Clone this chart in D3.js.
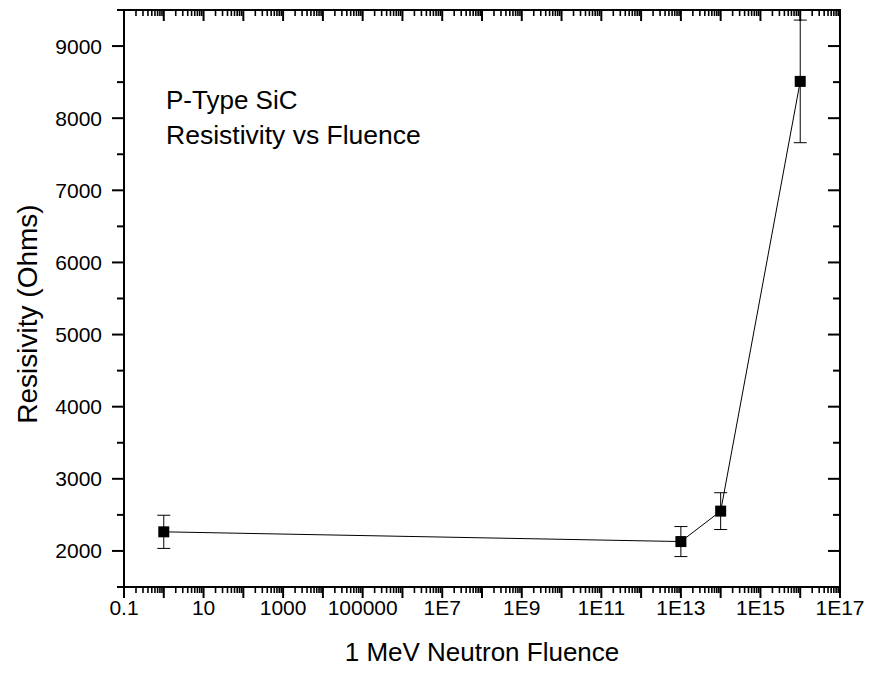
<!DOCTYPE html>
<meta charset="utf-8">
<script src="https://cdnjs.cloudflare.com/ajax/libs/d3/7.8.5/d3.min.js"></script>
<style>
  body { margin: 0; background: #fff; }
  text { font-family: "Liberation Sans", Arial, sans-serif; fill: #000; }
</style>
<div id="chart"></div>
<script>
// fluence (n/cm2), resistivity (Ohms), error (+/-)
const fluence = [1, 1e13, 1e14, 1e16];
const resistivity = [2265, 2130, 2552, 8510];
const errors = [230, 208, 255, 850];
const xTickLabels = ["0.1", "10", "1000", "100000", "1E7", "1E9", "1E11", "1E13", "1E15", "1E17"];
const yTicks = [2000, 3000, 4000, 5000, 6000, 7000, 8000, 9000];

const W = 870, H = 675;
const m = {left: 124, right: 30, top: 10, bottom: 88};

const svg = d3.select("#chart").append("svg").attr("width", W).attr("height", H);

const x = d3.scaleLog().domain([0.1, 1e17]).range([m.left, W - m.right]);
const y = d3.scaleLinear().domain([1500, 9500]).range([H - m.bottom, m.top]);

const x0 = m.left, x1 = W - m.right, y0 = H - m.bottom, y1 = m.top;

// log ticks: every decade major, 2..9 minor
let majorX = [], minorX = [];
for (let e = -1; e <= 17; e++) {
  majorX.push(Math.pow(10, e));
  if (e < 17) for (let k = 2; k <= 9; k++) minorX.push(k * Math.pow(10, e));
}

const axes = svg.append("g").attr("stroke", "#000");

// bottom ticks outward, top ticks inward
majorX.forEach(v => {
  axes.append("line").attr("x1", x(v)).attr("x2", x(v)).attr("y1", y0).attr("y2", y0 + 11).attr("stroke-width", 2);
  axes.append("line").attr("x1", x(v)).attr("x2", x(v)).attr("y1", y1).attr("y2", y1 + 11).attr("stroke-width", 2);
});
minorX.forEach(v => {
  axes.append("line").attr("x1", x(v)).attr("x2", x(v)).attr("y1", y0).attr("y2", y0 + 6).attr("stroke-width", 1.6);
  axes.append("line").attr("x1", x(v)).attr("x2", x(v)).attr("y1", y1).attr("y2", y1 + 6).attr("stroke-width", 1.6);
});

// left ticks outward, right ticks inward
d3.range(1500, 9501, 500).forEach(v => {
  const len = v % 1000 === 0 ? 12 : 7;
  axes.append("line").attr("x1", x0 - len).attr("x2", x0).attr("y1", y(v)).attr("y2", y(v)).attr("stroke-width", 2);
  axes.append("line").attr("x1", x1 - len).attr("x2", x1).attr("y1", y(v)).attr("y2", y(v)).attr("stroke-width", 2);
});

// frame
axes.append("rect").attr("x", x0).attr("y", y1).attr("width", x1 - x0).attr("height", y0 - y1)
  .attr("fill", "none").attr("stroke-width", 2);

// tick labels
svg.append("g").selectAll("text").data(xTickLabels).join("text")
  .attr("x", (d, i) => x(Math.pow(10, -1 + 2 * i)))
  .attr("y", y0 + 28)
  .attr("text-anchor", "middle").attr("font-size", 21)
  .text(d => d);

svg.append("g").selectAll("text").data(yTicks).join("text")
  .attr("x", x0 - 22).attr("y", d => y(d) + 7.5)
  .attr("text-anchor", "end").attr("font-size", 21)
  .text(d => d);

// axis titles
svg.append("text").attr("x", (x0 + x1) / 2).attr("y", 661).attr("text-anchor", "middle")
  .attr("font-size", 26).text("1 MeV Neutron Fluence");
svg.append("text").attr("transform", "translate(37,314) rotate(-90)")
  .attr("text-anchor", "middle").attr("font-size", 28).text("Resisivity (Ohms)");

// annotation
svg.append("text").attr("x", 166).attr("y", 109).attr("font-size", 26).text("P-Type SiC");
svg.append("text").attr("x", 166).attr("y", 144).attr("font-size", 26.5).text("Resistivity vs Fluence");

const data = fluence.map((f, i) => ({f, r: resistivity[i], e: errors[i]}));

// error bars
const eb = svg.append("g").attr("stroke", "#000").attr("stroke-width", 1);
data.forEach(d => {
  const cx = x(d.f);
  eb.append("line").attr("x1", cx).attr("x2", cx).attr("y1", y(d.r - d.e)).attr("y2", y(d.r + d.e));
  eb.append("line").attr("x1", cx - 6.5).attr("x2", cx + 6.5).attr("y1", y(d.r - d.e)).attr("y2", y(d.r - d.e));
  eb.append("line").attr("x1", cx - 6.5).attr("x2", cx + 6.5).attr("y1", y(d.r + d.e)).attr("y2", y(d.r + d.e));
});

// connecting line
svg.append("path").datum(data)
  .attr("fill", "none").attr("stroke", "#000").attr("stroke-width", 1)
  .attr("d", d3.line().x(d => x(d.f)).y(d => y(d.r)));

// markers
svg.append("g").selectAll("rect").data(data).join("rect")
  .attr("x", d => x(d.f) - 5.5).attr("y", d => y(d.r) - 5.5)
  .attr("width", 11).attr("height", 11).attr("fill", "#000");
</script>
